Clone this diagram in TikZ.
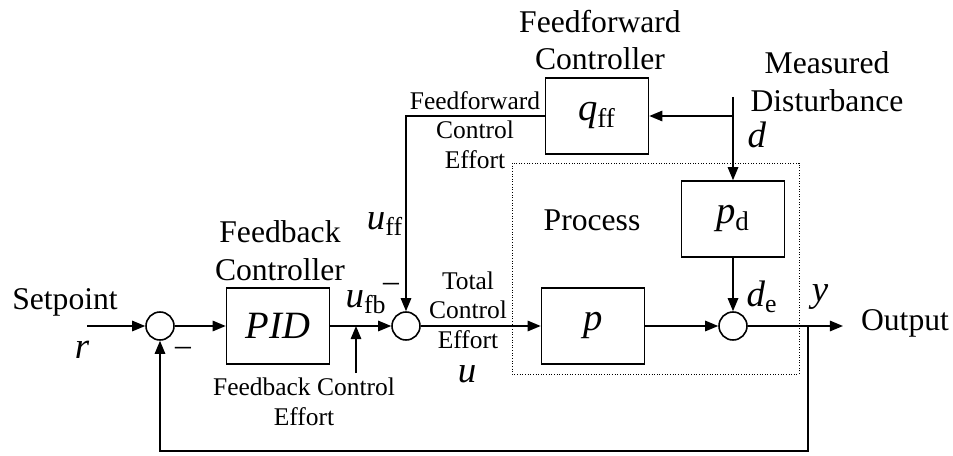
\documentclass[tikz,border=0pt]{standalone}
\usepackage{fontspec}
\setmainfont{Liberation Serif}
\usetikzlibrary{arrows.meta}
\usetikzlibrary{positioning}

\newcommand{\sig}[2]{\textit{#1}\textsubscript{#2}}

\tikzset{
  big/.style={font=\fontsize{18}{21.5}\selectfont, align=center, inner sep=0pt},
  small/.style={font=\fontsize{14.5}{16.8}\selectfont, align=center, inner sep=0pt},
  lbl/.style={font=\fontsize{21}{24}\selectfont, inner sep=0pt},
  block/.style={draw, line width=0.9pt, minimum width=2.06cm, minimum height=1.52cm, font=\fontsize{22}{26}\selectfont},
  sum/.style={draw, circle, line width=0.9pt, minimum size=0.56cm, inner sep=0pt},
  sigline/.style={line width=0.9pt, -{Triangle[length=7.5pt,width=6pt]}},
}

\begin{document}
\begin{tikzpicture}[x=0.02cm, y=-0.02cm]
    \useasboundingbox (0,0) rectangle (953,456);

    % blocks and summing points
    \node [sum] (s1) at (160,326) {};
    \node [block] (pid) at (278,326) {\textit{PID}};
    \node [sum] (s2) at (406,326) {};
    \node [block] (qff) at (597,116) {\sig{q}{ff}};
    \node [block] (pd) at (733,219) {\sig{p}{d}};
    \node [block] (p) at (593,326) {\textit{p}};
    \node [sum] (s3) at (733,326) {};

    \coordinate (in) at (87,326);
    \coordinate (out) at (843,326);
    \coordinate (br) at (808,326);
    \coordinate (bb) at (808,451);
    \coordinate (dtop) at (733,97);
    \coordinate (dj) at (733,116);
    \coordinate (ufb) at (356,326);
    \coordinate (fbtail) at (356,373);

    \draw [densely dotted, line width=0.5pt] (512,163) rectangle (799,374);

    % signals
    \draw [sigline] (in) -- (s1);
    \draw [sigline] (s1) -- (pid);
    \draw [sigline] (pid) -- (s2);
    \draw [sigline] (s2) -- (p);
    \draw [sigline] (p) -- (s3);
    \draw [sigline] (s3) -- (out);
    \draw [sigline] (pd) -- (s3);
    \draw [sigline] (dtop) -- (pd);
    \draw [sigline] (dj) -- (qff);
    \draw [sigline] (qff) -| (s2);
    \draw [sigline] (br) -- (bb) -| (s1);
    \draw [sigline] (fbtail) -- (ufb);

    % labels
    \node [big] (setp) at (65,302) {Setpoint};
    \node [lbl] (r) at (82,350) {\textit{r}};
    \node [big] (m1) at (183,351) {–};
    \node [big] (fbc) at (280,251) {Feedback\\Controller};
    \node [lbl] (ufbl) at (366,302) {\sig{u}{fb}};
    \node [big] (m2) at (391,287) {–};
    \node [small] (fbce) at (304,402) {Feedback Control\\Effort};
    \node [lbl] (uff) at (385,224) {\sig{u}{ff}};
    \node [small] (ffce) at (475,130) {Feedforward\\Control\\Effort};
    \node [big] (ffc) at (600,40) {Feedforward\\Controller};
    \node [big] (md) at (827,82) {Measured\\Disturbance};
    \node [lbl] (d) at (757,135) {\textit{d}};
    \node [big] (proc) at (592,220) {Process};
    \node [lbl] (de) at (762,297) {\sig{d}{e}};
    \node [lbl] (y) at (820,297) {\textit{y}};
    \node [big] (outl) at (905,323) {Output};
    \node [small] (tce) at (468,310) {Total\\Control\\Effort};
    \node [lbl] (u) at (467,374) {\textit{u}};
\end{tikzpicture}
\end{document}
